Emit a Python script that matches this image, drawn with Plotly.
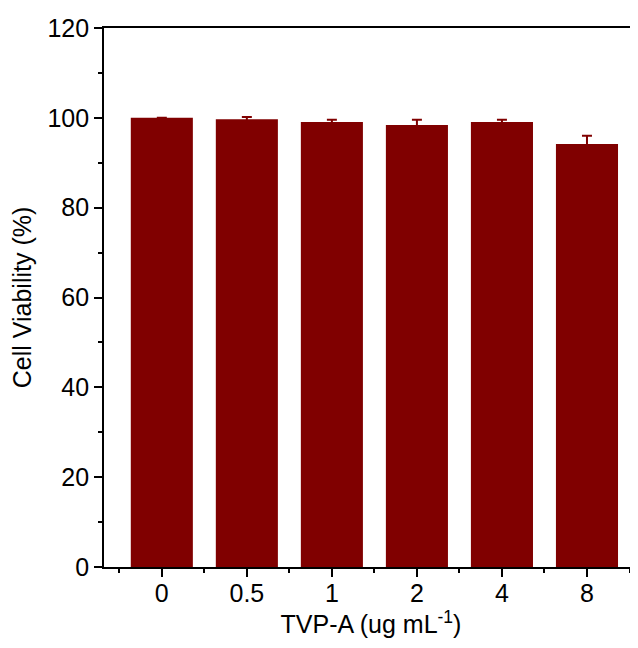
import plotly.graph_objects as go

categories = ["0", "0.5", "1", "2", "4", "8"]
viability = [100.0, 99.7, 99.1, 98.4, 99.1, 94.2]
errors = [0.0, 0.5, 0.5, 1.2, 0.5, 1.8]
y_ticks = [0, 20, 40, 60, 80, 100, 120]

positions = list(range(len(categories)))

fig = go.Figure()
fig.add_trace(go.Bar(
    x=positions,
    y=viability,
    width=0.73,
    marker=dict(color="#800000", line=dict(width=0)),
    error_y=dict(type="data", array=errors, visible=True,
                 color="#800000", thickness=2, width=5),
))

font_family = "Liberation Sans, Arial, sans-serif"
fs = 25

# page body has an 8px default margin, so the figure is sized to fit the 638x648 window
fig.update_layout(
    width=630, height=640,
    margin=dict(l=96, r=0, t=20, b=81),
    paper_bgcolor="white", plot_bgcolor="white",
    showlegend=False,
    font=dict(family=font_family, size=fs, color="black"),
    xaxis=dict(
        range=[-0.68, 5.6],
        tickmode="array", tickvals=positions, ticktext=categories,
        showline=True, linecolor="black", linewidth=1.8, mirror=True,
        ticks="outside", ticklen=8, tickwidth=1.8, tickcolor="black",
        ticklabelstandoff=-5,
        minor=dict(tickmode="array",
                   tickvals=[p - 0.5 for p in positions] + [positions[-1] + 0.5],
                   ticks="outside", ticklen=4, tickwidth=1.8, tickcolor="black"),
        showgrid=False, zeroline=False,
        tickfont=dict(size=fs),
        title=dict(text="TVP-A (ug mL<sup>-1</sup>)", font=dict(size=fs), standoff=8),
    ),
    yaxis=dict(
        range=[0, 120],
        tickmode="array", tickvals=y_ticks,
        showline=True, linecolor="black", linewidth=1.8,
        ticks="outside", ticklen=8, tickwidth=1.8, tickcolor="black",
        minor=dict(dtick=10, ticks="outside", ticklen=4, tickwidth=1.8, tickcolor="black"),
        showgrid=False, zeroline=False,
        tickfont=dict(size=fs),
        title=dict(text="Cell Viability (%)", font=dict(size=fs), standoff=10),
    ),
)

fig.write_html("out.html")
